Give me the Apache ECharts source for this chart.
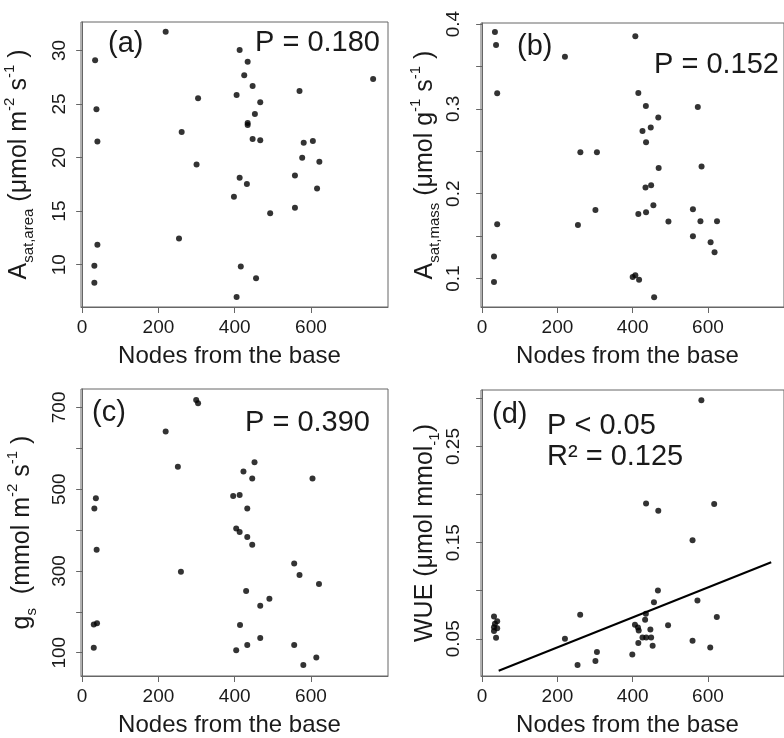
<!DOCTYPE html>
<html>
<head>
<meta charset="utf-8">
<script src="https://cdn.jsdelivr.net/npm/echarts@6/dist/echarts.min.js"></script>
<style>
  html, body { margin: 0; padding: 0; background: #fff; }
  #chart { width: 784px; height: 738px; }
</style>
</head>
<body>
<div id="chart"></div>
<script>
// (a) light-saturated photosynthesis per area
const nodesA = [219, 34, 37.5, 40, 40, 32, 32, 261, 254, 304, 300, 413, 434, 425, 405, 447, 467, 453, 434, 434,
	447, 467, 413, 432, 398, 493, 416, 456, 405, 763, 570, 581, 605, 577, 622, 558, 616, 558];
const asatArea = [31.74, 29.07, 24.5, 21.49, 11.86, 9.91, 8.32, 22.39, 12.45, 25.53, 19.35, 30.03, 28.94, 27.67,
	25.84, 26.68, 25.16, 24.07, 23.23, 23.04, 21.74, 21.61, 18.11, 17.52, 16.34, 14.81, 9.84, 8.73, 6.99, 27.33,
	26.21, 21.37, 21.55, 19.97, 19.6, 18.32, 17.11, 15.31];

// (b) per mass
const nodesB = [34, 37, 40, 40, 31.5, 31.5, 220, 261, 305, 301, 254.5, 407, 415, 435, 468, 448, 426, 435.5, 469,
	449, 434, 455, 435.5, 415, 495, 400, 407, 417, 457, 573, 583, 560, 580, 624, 560, 607, 617.5];
const asatMass = [0.3906, 0.3753, 0.3183, 0.164, 0.126, 0.0961, 0.3615, 0.2488, 0.2488, 0.1809, 0.1632, 0.3855,
	0.3187, 0.3034, 0.2897, 0.2779, 0.274, 0.2606, 0.2304, 0.21, 0.2072, 0.1864, 0.1782, 0.1762, 0.1672, 0.102,
	0.104, 0.0985, 0.078, 0.3022, 0.232, 0.1817, 0.1676, 0.1676, 0.1499, 0.1428, 0.1311];

// (c) stomatal conductance
const nodesC = [299, 304, 219, 251, 259, 36, 32, 38, 30.5, 39, 30.5, 452, 423, 446, 396, 413, 433, 404, 413, 433,
	446, 430, 491, 467, 414, 467, 433, 404, 604, 556, 570, 621, 556, 614, 580];
const gs = [718, 710, 641, 555, 298, 478, 453, 352, 169, 172, 112, 566, 543, 526, 483, 486, 453, 404, 395, 383,
	364, 251, 232, 215, 168, 136, 119, 106, 526, 318, 290, 268, 119, 88, 70];

// (d) water use efficiency + fitted line
const nodesD = [582.5, 435.5, 468, 616.5, 559, 467, 572, 456.5, 260.5, 435, 433, 623.5, 406, 414, 416, 447, 494,
	220, 426, 436, 449, 415, 453, 559, 606, 305, 399, 301, 253.5, 31.5, 40, 34, 31.5, 40, 31.5, 37];
const wue = [0.2981, 0.1908, 0.1832, 0.1901, 0.1524, 0.1002, 0.0898, 0.0881, 0.0749, 0.076, 0.0697, 0.0728,
	0.0645, 0.0618, 0.0587, 0.0597, 0.0642, 0.05, 0.0514, 0.0514, 0.0514, 0.0455, 0.0427, 0.0479, 0.041, 0.0362,
	0.0337, 0.0268, 0.0227, 0.0732, 0.0683, 0.0656, 0.0621, 0.0611, 0.058, 0.051];
const fitX = [44, 768];
const fitY = [0.0168, 0.1296];

// ticks
const xTicks = [0, 200, 400, 600];
const ticksA = [10, 15, 20, 25, 30];
const labelsA = [10, 15, 20, 25, 30];
const ticksB = [0.1, 0.15, 0.2, 0.25, 0.3, 0.35, 0.4];
const labelsB = [0.1, 0.2, 0.3, 0.4];
const ticksC = [100, 200, 300, 400, 500, 600, 700];
const labelsC = [100, 300, 500, 700];
const ticksD = [0.05, 0.1, 0.15, 0.2, 0.25, 0.3];
const labelsD = [0.05, 0.15, 0.25];

const FONT = '"Liberation Sans", Arial, sans-serif';
const INK = '#1a1a1a';
const FRAME = '#666';

const zip = ( xs, ys ) => xs.map( ( x, i ) => [ x, ys[ i ] ] );

const richName = {
	m: { fontSize: 25, lineHeight: 34, verticalAlign: 'middle', color: INK, fontFamily: FONT },
	sub: { fontSize: 15, lineHeight: 15, verticalAlign: 'bottom', color: INK, fontFamily: FONT },
	sup: { fontSize: 15, lineHeight: 26, verticalAlign: 'top', color: INK, fontFamily: FONT }
};

function xAxisFor( idx ) {
	return {
		type: 'value', gridIndex: idx, min: -3, max: 802,
		name: 'Nodes from the base', nameLocation: 'middle', nameGap: 37,
		nameTextStyle: { fontSize: 24, color: INK, fontFamily: FONT, padding: [ 0, 10, 0, 0 ] },
		axisLine: { show: true, lineStyle: { color: FRAME } },
		axisTick: { show: true, length: 6, customValues: xTicks, lineStyle: { color: FRAME } },
		axisLabel: { customValues: xTicks, fontSize: 19, margin: 11, color: INK, fontFamily: FONT },
		splitLine: { show: false }
	};
}

function yAxisFor( idx, min, max, ticks, labels, name, gap, margin, fmt ) {
	return {
		type: 'value', gridIndex: idx, min: min, max: max,
		name: name, nameLocation: 'middle', nameRotate: 90, nameGap: gap,
		nameTextStyle: { rich: richName },
		axisLine: { show: true, lineStyle: { color: FRAME } },
		axisTick: { show: true, length: 6, customValues: ticks, lineStyle: { color: FRAME } },
		axisLabel: {
			customValues: labels, rotate: 90, fontSize: 19, margin: margin, color: INK, fontFamily: FONT,
			formatter: fmt
		},
		splitLine: { show: false }
	};
}

function dots( idx, data ) {
	return {
		type: 'scatter', xAxisIndex: idx, yAxisIndex: idx, data: data,
		symbolSize: 6, itemStyle: { color: '#000' }, silent: true
	};
}

function note( text, x, y ) {
	return {
		type: 'text', x: x, y: y,
		style: { text: text, fontSize: 29, fontFamily: FONT, fill: INK, align: 'left', verticalAlign: 'middle' }
	};
}

const gridStyle = { show: true, borderColor: FRAME, borderWidth: 1, containLabel: false };

const chart = echarts.init( document.getElementById( 'chart' ), null, { renderer: 'canvas' } );
chart.setOption( {
	backgroundColor: '#fff',
	animation: false,
	grid: [
		Object.assign( { left: 81, top: 22, width: 307, height: 285 }, gridStyle ),
		Object.assign( { left: 481, top: 23, width: 307, height: 284 }, gridStyle ),
		Object.assign( { left: 81, top: 389, width: 307, height: 287 }, gridStyle ),
		Object.assign( { left: 481, top: 390, width: 307, height: 286 }, gridStyle )
	],
	xAxis: [ xAxisFor( 0 ), xAxisFor( 1 ), xAxisFor( 2 ), xAxisFor( 3 ) ],
	yAxis: [
		yAxisFor( 0, 6.05, 32.65, ticksA, labelsA,
			'{m|A}{sub|sat,area}{m| (μmol m}{sup|-2}{m| s}{sup|-1}{m| )}', 45, 12 ),
		yAxisFor( 1, 0.0665, 0.4012, ticksB, labelsB,
			'{m|A}{sub|sat,mass}{m| (μmol g}{sup|-1}{m| s}{sup|-1}{m| )}', 39, 18, ( v ) => v.toFixed( 1 ) ),
		yAxisFor( 2, 43, 745, ticksC, labelsC,
			'{m|g}{sub|s}{m|  (mmol m}{sup|-2}{m| s}{sup|-1}{m| )}', 42, 12 ),
		yAxisFor( 3, 0.0113, 0.3088, ticksD, labelsD,
			'{m|WUE (μmol mmol}{sub|-1}{m|)}', 39, 18, ( v ) => v.toFixed( 2 ) )
	],
	series: [
		dots( 0, zip( nodesA, asatArea ) ),
		dots( 1, zip( nodesB, asatMass ) ),
		dots( 2, zip( nodesC, gs ) ),
		dots( 3, zip( nodesD, wue ) ),
		{
			type: 'line', xAxisIndex: 3, yAxisIndex: 3, data: zip( fitX, fitY ),
			showSymbol: false, lineStyle: { color: '#000', width: 2 }, silent: true
		}
	],
	graphic: [
		note( '(a)', 108, 44 ),
		note( 'P = 0.180', 255, 43 ),
		note( '(b)', 517, 47 ),
		note( 'P = 0.152', 654, 65 ),
		note( '(c)', 92, 413 ),
		note( 'P = 0.390', 245, 423 ),
		note( '(d)', 492, 415 ),
		note( 'P < 0.05', 547, 426 ),
		note( 'R² = 0.125', 547, 457 )
	]
} );
</script>
</body>
</html>
